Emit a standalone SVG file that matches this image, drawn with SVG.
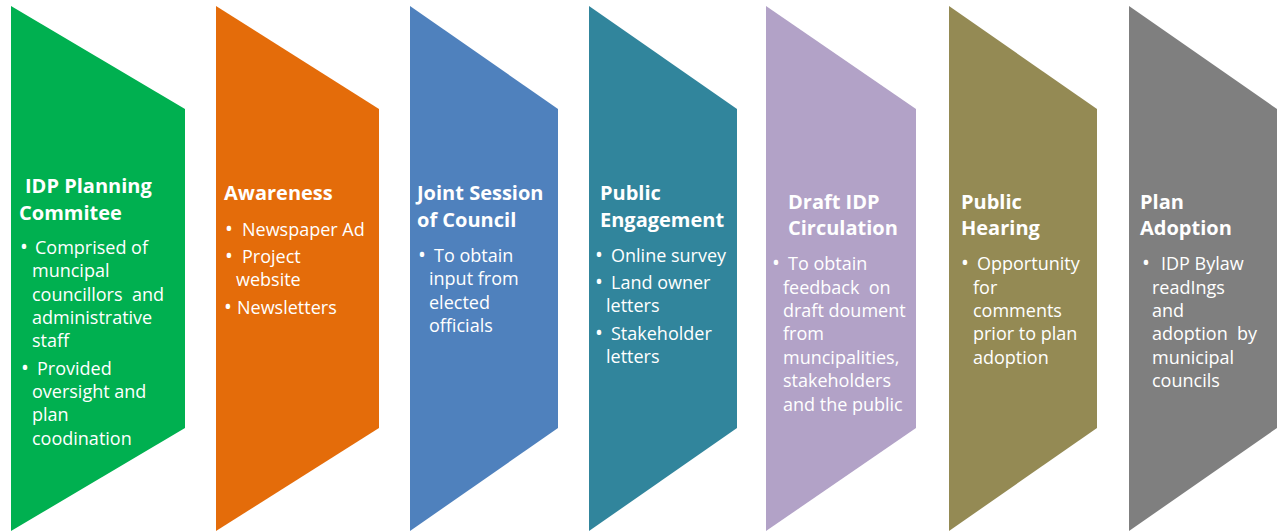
<svg xmlns="http://www.w3.org/2000/svg" width="1277" height="531" viewBox="0 0 1277 531">
<style>
text{font-family:"Open Sans","Liberation Sans",sans-serif;fill:#fff;white-space:pre}
.t{font-size:20px;font-weight:bold}
.b{font-size:18px}
.d{font-size:21px}
</style>
<rect width="1277" height="531" fill="#fff"/>
<g id="step1">
<polygon points="11,6 185,109 185,428 11,531" fill="#00B050"/>
<text class="t" x="25" y="193">IDP Planning</text>
<text class="t" x="19" y="220">Commitee</text>
<text class="b" y="254"><tspan class="d" x="20">•</tspan><tspan x="35">Comprised of</tspan></text>
<text class="b" x="32" y="277">muncipal</text>
<text class="b" x="32" y="301">councillors  and</text>
<text class="b" x="32" y="324">administrative</text>
<text class="b" x="32" y="347">staff</text>
<text class="b" y="375"><tspan class="d" x="21">•</tspan><tspan x="37">Provided</tspan></text>
<text class="b" x="32" y="398">oversight and</text>
<text class="b" x="32" y="421">plan</text>
<text class="b" x="32" y="445">coodination</text>
</g>
<g id="step2">
<polygon points="216,6 379,109 379,428 216,531" fill="#E46C0A"/>
<text class="t" x="224" y="200">Awareness</text>
<text class="b" y="236"><tspan class="d" x="225">•</tspan><tspan x="242">Newspaper Ad</tspan></text>
<text class="b" y="263"><tspan class="d" x="225">•</tspan><tspan x="242">Project</tspan></text>
<text class="b" x="236" y="286">website</text>
<text class="b" y="314"><tspan class="d" x="224">•</tspan><tspan x="237">Newsletters</tspan></text>
</g>
<g id="step3">
<polygon points="410,6 558,109 558,428 410,531" fill="#4F81BD"/>
<text class="t" x="417" y="200">Joint Session</text>
<text class="t" x="417" y="227">of Council</text>
<text class="b" y="262"><tspan class="d" x="418">•</tspan><tspan x="434">To obtain</tspan></text>
<text class="b" x="429" y="285">input from</text>
<text class="b" x="429" y="309">elected</text>
<text class="b" x="429" y="332">officials</text>
</g>
<g id="step4">
<polygon points="589,6 737,109 737,428 589,531" fill="#31859C"/>
<text class="t" x="600" y="200">Public</text>
<text class="t" x="600" y="227">Engagement</text>
<text class="b" y="262"><tspan class="d" x="595">•</tspan><tspan x="611">Online survey</tspan></text>
<text class="b" y="289"><tspan class="d" x="595">•</tspan><tspan x="611">Land owner</tspan></text>
<text class="b" x="606" y="312">letters</text>
<text class="b" y="340"><tspan class="d" x="595">•</tspan><tspan x="611">Stakeholder</tspan></text>
<text class="b" x="606" y="363">letters</text>
</g>
<g id="step5">
<polygon points="766,6 916,109 916,428 766,531" fill="#B2A2C7"/>
<text class="t" x="788" y="209">Draft IDP</text>
<text class="t" x="788" y="235">Circulation</text>
<text class="b" y="270"><tspan class="d" x="772">•</tspan><tspan x="788">To obtain</tspan></text>
<text class="b" x="783" y="294">feedback  on</text>
<text class="b" x="783" y="317">draft doument</text>
<text class="b" x="783" y="340">from</text>
<text class="b" x="783" y="364">muncipalities,</text>
<text class="b" x="783" y="387">stakeholders</text>
<text class="b" x="783" y="411">and the public</text>
</g>
<g id="step6">
<polygon points="949,6 1097,109 1097,428 949,531" fill="#948A54"/>
<text class="t" x="961" y="209">Public</text>
<text class="t" x="961" y="235">Hearing</text>
<text class="b" y="270"><tspan class="d" x="961">•</tspan><tspan x="977">Opportunity</tspan></text>
<text class="b" x="973" y="294">for</text>
<text class="b" x="973" y="317">comments</text>
<text class="b" x="973" y="340">prior to plan</text>
<text class="b" x="973" y="364">adoption</text>
</g>
<g id="step7">
<polygon points="1129,6 1277,109 1277,428 1129,531" fill="#7F7F7F"/>
<text class="t" x="1140" y="209">Plan</text>
<text class="t" x="1140" y="235">Adoption</text>
<text class="b" y="270"><tspan class="d" x="1142">•</tspan><tspan x="1161">IDP Bylaw</tspan></text>
<text class="b" x="1152" y="294">readIngs</text>
<text class="b" x="1152" y="317">and</text>
<text class="b" x="1152" y="340">adoption  by</text>
<text class="b" x="1152" y="364">municipal</text>
<text class="b" x="1152" y="387">councils</text>
</g>
<g id="connectors"/>
</svg>
